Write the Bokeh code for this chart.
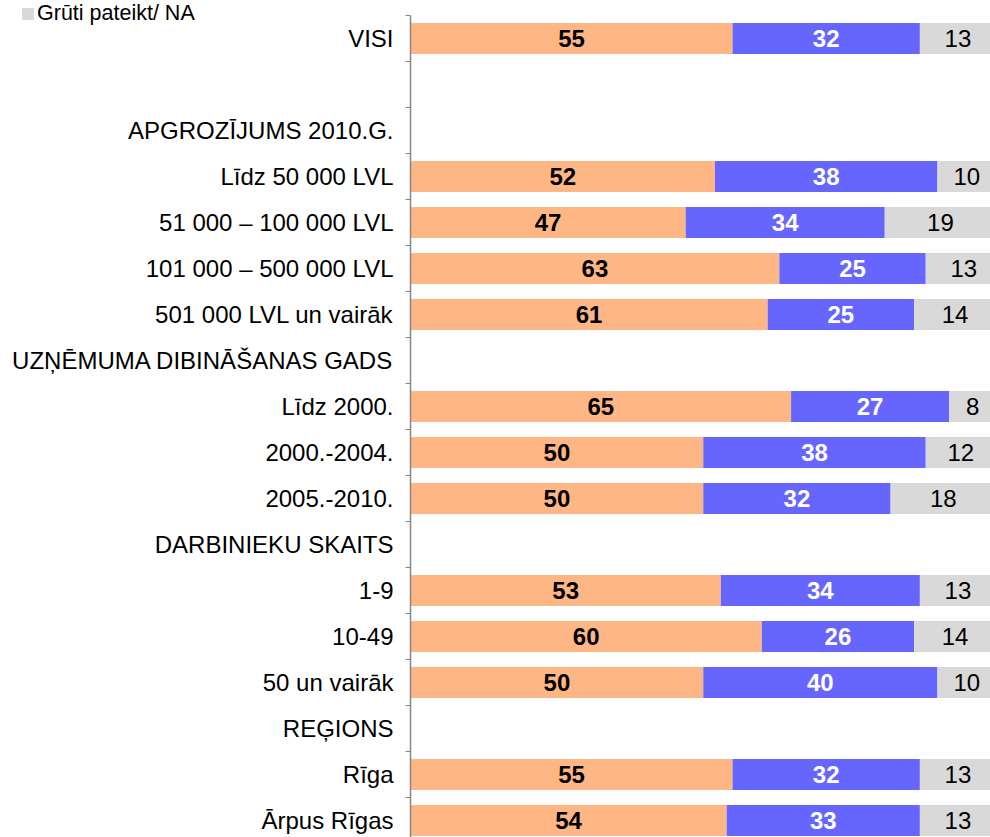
import numpy as np
from bokeh.plotting import figure
from bokeh.models import ColumnDataSource, Range1d, FixedTicker, Legend, LegendItem
from bokeh.core.properties import value
from bokeh.embed import file_html
from bokeh.resources import INLINE

row_labels = ["VISI", "", "APGROZĪJUMS 2010.G.", "Līdz 50 000 LVL", "51 000 – 100 000 LVL",
              "101 000 – 500 000 LVL", "501 000 LVL un vairāk", "UZŅĒMUMA DIBINĀŠANAS GADS",
              "Līdz 2000.", "2000.-2004.", "2005.-2010.", "DARBINIEKU SKAITS", "1-9", "10-49",
              "50 un vairāk", "REĢIONS", "Rīga", "Ārpus Rīgas"]
bar_rows = ["VISI", "Līdz 50 000 LVL", "51 000 – 100 000 LVL", "101 000 – 500 000 LVL",
            "501 000 LVL un vairāk", "Līdz 2000.", "2000.-2004.", "2005.-2010.", "1-9", "10-49",
            "50 un vairāk", "Rīga", "Ārpus Rīgas"]
series_a = [55, 52, 47, 63, 61, 65, 50, 50, 53, 60, 50, 55, 54]
series_b = [32, 38, 34, 25, 25, 27, 38, 32, 34, 26, 40, 32, 33]
series_na = [13, 10, 19, 13, 14, 8, 12, 18, 13, 14, 10, 13, 13]
legend_na = "Grūti pateikt/ NA"

colors = ["#FFB685", "#6666FF", "#D9D9D9"]
text_colors = ["black", "white", "black"]
text_styles = ["bold", "bold", "normal"]

FONT = value("Liberation Sans")
FS = "24px"

ypos = np.array([row_labels.index(r) for r in bar_rows], dtype=float)
vals = np.array([series_a, series_b, series_na], dtype=float)
rights = np.cumsum(vals, axis=0)
lefts = rights - vals

# layout (pixels)
W, H = 990, 837
AXIS_X, AXIS_TOP = 410, 15
ROW = 46.0
PX_PER_PCT = 5.855

x_start = -AXIS_X / PX_PER_PCT
x_end = (W - AXIS_X) / PX_PER_PCT
y_top = -0.5 - AXIS_TOP / ROW
y_bot = -0.5 + (H - AXIS_TOP) / ROW

p = figure(width=W, height=H, output_backend="svg", toolbar_location=None,
           x_range=Range1d(x_start, x_end), y_range=Range1d(y_bot, y_top),
           min_border_left=0, min_border_right=0, min_border_top=0, min_border_bottom=0)
p.xaxis.visible = False
p.xgrid.visible = False
p.ygrid.visible = False
p.outline_line_color = None

renderers = []
for k in range(3):
    src = ColumnDataSource(dict(y=ypos, left=lefts[k], right=rights[k],
                                xc=(lefts[k] + rights[k]) / 2,
                                txt=[str(int(v)) for v in vals[k]]))
    r = p.hbar(y="y", left="left", right="right", height=0.67, source=src,
               fill_color=colors[k], line_color=None)
    renderers.append(r)
    p.text(x="xc", y="y", text="txt", source=src, text_align="center",
           text_baseline="middle", text_font=FONT, text_font_size=FS,
           text_font_style=text_styles[k], text_color=text_colors[k])

n = len(row_labels)
ax = p.yaxis[0]
ax.fixed_location = 0
ax.bounds = (-0.5, n - 0.5)
ax.ticker = FixedTicker(ticks=list(range(n)), minor_ticks=[i - 0.5 for i in range(n + 1)])
ax.major_label_overrides = {i: lab for i, lab in enumerate(row_labels)}
ax.major_tick_out = 0
ax.major_tick_in = 0
ax.minor_tick_out = 5
ax.minor_tick_in = 0
ax.minor_tick_line_color = "#868686"
ax.axis_line_color = "#868686"
ax.axis_line_width = 1.5
ax.major_label_standoff = 12
ax.major_label_text_font = "Liberation Sans"
ax.major_label_text_font_size = FS
ax.major_label_text_color = "black"

legend = Legend(items=[LegendItem(label=legend_na, renderers=[renderers[2]])],
                location=(20, H - 26), orientation="horizontal",
                glyph_width=15, glyph_height=15, label_standoff=2,
                label_text_font="Liberation Sans", label_text_font_size="21.5px",
                padding=0, margin=0, spacing=0, border_line_color=None,
                background_fill_alpha=0, label_height=21, label_text_baseline="middle",
                label_text_color="black")
p.add_layout(legend, "center")

open("out.html", "w").write(file_html(p, INLINE))
